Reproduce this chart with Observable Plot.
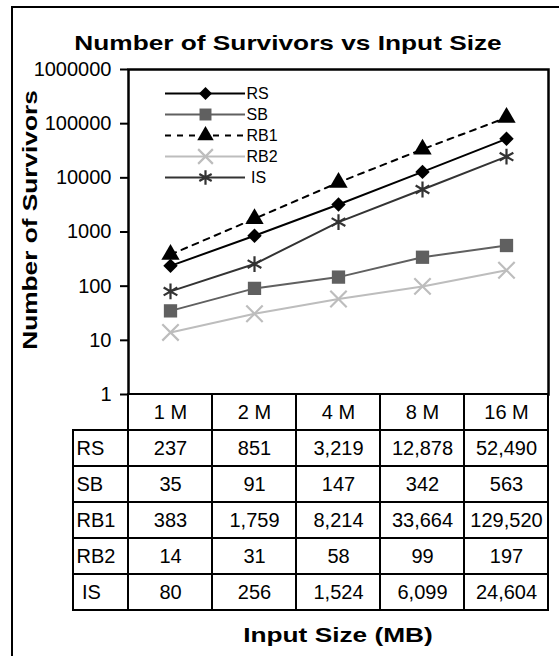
<!DOCTYPE html>
<html><head><meta charset="utf-8">
<script src="https://cdn.jsdelivr.net/npm/d3@7"></script>
<script src="https://cdn.jsdelivr.net/npm/@observablehq/plot@0.6"></script>
<style>
html,body{margin:0;padding:0;background:#fff;overflow:hidden}
#wrap{position:relative;width:559px;height:656px;overflow:hidden;font-family:"Liberation Sans",Arial,sans-serif;color:#000}
#border{position:absolute;left:11px;top:6px;width:600px;height:700px;border:2px solid #000;box-sizing:border-box}
.abs{position:absolute}
#title{position:absolute;left:0;width:576px;top:31px;text-align:center;font-weight:bold;font-size:21px;line-height:24px;transform:scaleX(1.25);transform-origin:288px 12px}
#xtitle{position:absolute;left:128px;width:420px;top:623px;text-align:center;font-weight:bold;font-size:21px;line-height:24px;transform:scaleX(1.25);transform-origin:210px 12px}
#ytitle{position:absolute;left:-120px;width:300px;top:208px;height:24px;line-height:24px;text-align:center;font-weight:bold;font-size:21px;transform:rotate(-90deg) scaleX(1.25);transform-origin:150px 12px}
</style>
</head><body>
<div id="wrap">
  <div id="border"></div>
  <div id="title">Number of Survivors vs Input Size</div>
  <div id="ytitle">Number of Survivors</div>
  <div id="xtitle">Input Size (MB)</div>
</div>
<script>
// ---- data ----
const sizes = ["1 M", "2 M", "4 M", "8 M", "16 M"];
const seriesNames = ["RS", "SB", "RB1", "RB2", " IS"];
const RS  = [237, 851, 3219, 12878, 52490];
const SB  = [35, 91, 147, 342, 563];
const RB1 = [383, 1759, 8214, 33664, 129520];
const RB2 = [14, 31, 58, 99, 197];
const IS  = [80, 256, 1524, 6099, 24604];
const yTicks = [1, 10, 100, 1000, 10000, 100000, 1000000];

const values = [RS, SB, RB1, RB2, IS];
const rows = seriesNames.flatMap((s, i) => sizes.map((z, j) => ({series: s, size: z, value: values[i][j]})));

// ---- styles ----
const styles = [
  {color: "#000", symbol: "diamond2", filled: true, r: 6.5, dash: null},
  {color: "#606060", symbol: "square", filled: true, r: 7.5, dash: null},
  {color: "#000", symbol: "triangle", filled: true, r: 6.8, dash: "6,6"},
  {color: "#bdbdbd", symbol: "times", filled: false, r: 7.5, dash: null},
  {color: "#333", symbol: "asterisk", filled: false, r: 7.5, dash: null}
];
const font = '"Liberation Sans", Arial, sans-serif';
const wrap = document.getElementById("wrap");

// ---- main chart ----
const marks = [Plot.frame({stroke: "#000", strokeWidth: 2.5})];
seriesNames.forEach((s, i) => {
  const d = rows.filter(r => r.series === s);
  const st = styles[i];
  marks.push(Plot.line(d, {x: "size", y: "value", stroke: st.color, strokeWidth: 2, strokeDasharray: st.dash}));
  marks.push(Plot.dot(d, {x: "size", y: "value", symbol: st.symbol, r: st.r,
    fill: st.filled ? st.color : "none", stroke: st.filled ? "none" : st.color, strokeWidth: st.filled ? 0 : 2.2}));
});
const main = Plot.plot({
  width: 559, height: 400,
  marginLeft: 128, marginRight: 11, marginTop: 69, marginBottom: 6,
  style: {background: "transparent", fontFamily: font, fontSize: "20px", overflow: "visible"},
  x: {type: "point", domain: sizes, padding: 0.5, axis: null},
  y: {type: "log", domain: [1, 1e6], ticks: yTicks, tickFormat: d => String(d), tickSize: 8, tickPadding: 9, label: null},
  marks
});
main.classList.add("abs");
main.style.left = "0px"; main.style.top = "0px";
d3.select(main).selectAll("[aria-label='y-axis tick'] path, [aria-label='y-axis'] path").attr("stroke-width", 2);
wrap.appendChild(main);

// ---- data table ----
const fmt = d3.format(",");
const table = Plot.plot({
  width: 559, height: 220,
  marginLeft: 128, marginRight: 11, marginTop: 1, marginBottom: 3,
  style: {background: "transparent", fontFamily: font, fontSize: "20px", overflow: "visible", whiteSpace: "pre"},
  x: {type: "band", domain: sizes, padding: 0, axis: null},
  y: {type: "band", domain: ["hdr", ...seriesNames], padding: 0, axis: null},
  marks: [
    Plot.cell(sizes, {x: d => d, y: () => "hdr", fill: "white", stroke: "#000", strokeWidth: 2}),
    Plot.cell(rows, {x: "size", y: "series", fill: "white", stroke: "#000", strokeWidth: 2}),
    Plot.cell(seriesNames, {x: () => sizes[0], y: d => d, insetLeft: -55, insetRight: 84, fill: "white", stroke: "#000", strokeWidth: 2}),
    Plot.text(sizes, {x: d => d, y: () => "hdr", text: d => d, fontSize: 20}),
    Plot.text(rows, {x: "size", y: "series", text: d => fmt(d.value), fontSize: 20}),
    Plot.text(seriesNames, {x: () => sizes[0], y: d => d, text: d => d, textAnchor: "start", dx: -94, fontSize: 20})
  ]
});
table.classList.add("abs");
table.style.left = "0px"; table.style.top = "393px";
wrap.appendChild(table);

// ---- legend ----
const lmarks = [];
seriesNames.forEach((s, i) => {
  const st = styles[i];
  lmarks.push(Plot.ruleY([s], {y: d => d, x1: 0, x2: 1, stroke: st.color, strokeWidth: 2, strokeDasharray: st.dash}));
  lmarks.push(Plot.dot([s], {x: () => 0.5, y: d => d, symbol: st.symbol, r: st.r * 0.9,
    fill: st.filled ? st.color : "none", stroke: st.filled ? "none" : st.color, strokeWidth: st.filled ? 0 : 2.2}));
  lmarks.push(Plot.text([s], {x: () => 1, y: d => d, text: d => d, textAnchor: "start", dx: 1, fontSize: 16}));
});
const legend = Plot.plot({
  width: 130, height: 104,
  marginLeft: 0, marginRight: 50, marginTop: 10, marginBottom: 10,
  style: {background: "transparent", fontFamily: font, overflow: "visible", whiteSpace: "pre"},
  x: {domain: [0, 1], axis: null},
  y: {type: "point", domain: seriesNames, padding: 0, axis: null},
  marks: lmarks
});
legend.classList.add("abs");
legend.style.left = "165px"; legend.style.top = "83px";
wrap.appendChild(legend);
</script>
</body></html>
